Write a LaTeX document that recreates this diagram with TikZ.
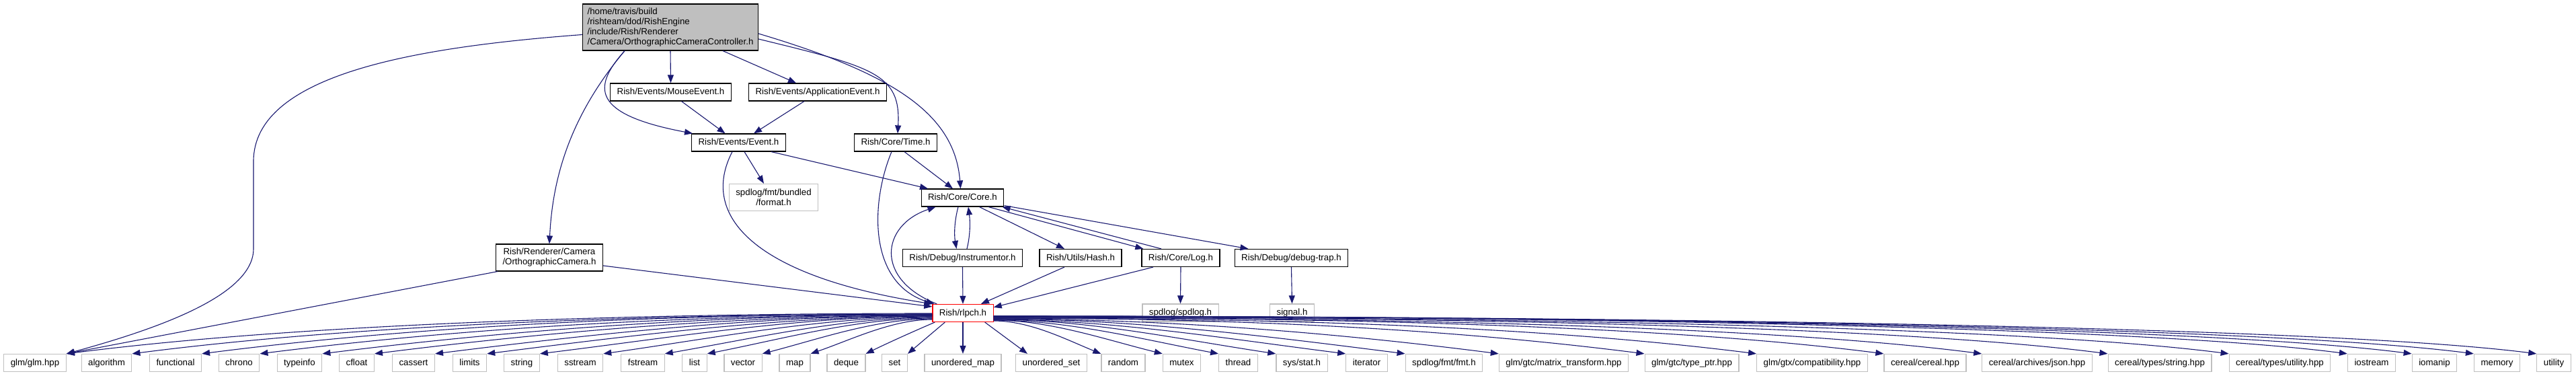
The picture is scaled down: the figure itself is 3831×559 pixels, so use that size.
\documentclass[tikz,border=0pt]{standalone}
\usepackage{fontspec}
\setmainfont{Liberation Sans}
\usetikzlibrary{arrows.meta}
\definecolor{edgeblue}{HTML}{191970}
\definecolor{boxgray}{HTML}{BFBFBF}
\newcommand{\lblfont}{\fontsize{13.3}{15}\selectfont}
\tikzstyle{file} = [rectangle, draw=black, fill=white, line width=1.2pt, font=\lblfont,
    inner xsep=10pt, inner ysep=4pt, minimum height=26pt, text height=10pt, text depth=3pt]
\tikzstyle{twoline} = [rectangle, draw=black, fill=white, line width=1.2pt, font=\lblfont,
    align=center, inner xsep=10pt, inner ysep=5pt, minimum height=40pt]
\tikzstyle{sysfile} = [file, draw=boxgray]
\tikzstyle{focus} = [rectangle, draw=black, fill=boxgray, line width=1.2pt, font=\lblfont,
    align=left, inner xsep=7pt, inner ysep=5pt, minimum height=69pt]
\tikzstyle{pch} = [file, draw=red]
\tikzstyle{arrow} = [color=edgeblue, line width=1.1pt, -{Triangle[length=12pt,width=9pt]}]

\begin{document}
\begin{tikzpicture}[x=1pt, y=-1pt]
\useasboundingbox (0,0) rectangle (3831,559);
\node (ctrl) [focus] at (997,40.5) {/home/travis/build\\/rishteam/dod/RishEngine\\/include/Rish/Renderer\\/Camera/OrthographicCameraController.h};
\node (mouseev) [file] at (997.5,137) {Rish/Events/MouseEvent.h};
\node (appev) [file] at (1216,137) {Rish/Events/ApplicationEvent.h};
\node (event) [file] at (1098.5,212) {Rish/Events/Event.h};
\node (timeh) [file] at (1332,212) {Rish/Core/Time.h};
\node (fmtformat) [twoline, draw=boxgray] at (1150.5,293.5) {spdlog/fmt/bundled\\/format.h};
\node (core) [file] at (1431.5,294) {Rish/Core/Core.h};
\node (orthocam) [twoline] at (817,383) {Rish/Renderer/Camera\\/OrthographicCamera.h};
\node (instr) [file] at (1431.5,383.5) {Rish/Debug/Instrumentor.h};
\node (hash) [file] at (1607,383.5) {Rish/Utils/Hash.h};
\node (logh) [file] at (1756,383.5) {Rish/Core/Log.h};
\node (debugtrap) [file] at (1920.5,383.5) {Rish/Debug/debug-trap.h};
\node (rlpch) [pch] at (1432,465.5) {Rish/rlpch.h};
\node (spdlog) [sysfile] at (1755.5,465) {spdlog/spdlog.h};
\node (signalh) [sysfile] at (1921.5,465) {signal.h};

\node (glm) [sysfile] at (52,539.5) {glm/glm.hpp};
\node (algorithm) [sysfile] at (158.5,539.5) {algorithm};
\node (functional) [sysfile] at (261,539.5) {functional};
\node (chrono) [sysfile] at (355.5,539.5) {chrono};
\node (typeinfo) [sysfile] at (445.5,539.5) {typeinfo};
\node (cfloat) [sysfile] at (530.5,539.5) {cfloat};
\node (cassert) [sysfile] at (615,539.5) {cassert};
\node (limits) [sysfile] at (698.5,539.5) {limits};
\node (string) [sysfile] at (776,539.5) {string};
\node (sstream) [sysfile] at (863,539.5) {sstream};
\node (fstream) [sysfile] at (956,539.5) {fstream};
\node (list) [sysfile] at (1033,539.5) {list};
\node (vector) [sysfile] at (1105,539.5) {vector};
\node (map) [sysfile] at (1182,539.5) {map};
\node (deque) [sysfile] at (1258.5,539.5) {deque};
\node (set) [sysfile] at (1330.5,539.5) {set};
\node (umap) [sysfile] at (1432,539.5) {unordered\_map};
\node (uset) [sysfile] at (1563.5,539.5) {unordered\_set};
\node (random) [sysfile] at (1670.5,539.5) {random};
\node (mutex) [sysfile] at (1757.5,539.5) {mutex};
\node (thread) [sysfile] at (1841.5,539.5) {thread};
\node (sysstat) [sysfile] at (1936,539.5) {sys/stat.h};
\node (iterator) [sysfile] at (2032.5,539.5) {iterator};
\node (fmth) [sysfile] at (2147.5,539.5) {spdlog/fmt/fmt.h};
\node (mtransform) [sysfile] at (2325.5,539.5) {glm/gtc/matrix\_transform.hpp};
\node (typeptr) [sysfile] at (2516,539.5) {glm/gtc/type\_ptr.hpp};
\node (compat) [sysfile] at (2695,539.5) {glm/gtx/compatibility.hpp};
\node (cereal) [sysfile] at (2863,539.5) {cereal/cereal.hpp};
\node (json) [sysfile] at (3029.5,539.5) {cereal/archives/json.hpp};
\node (cstring) [sysfile] at (3212,539.5) {cereal/types/string.hpp};
\node (cutility) [sysfile] at (3390.5,539.5) {cereal/types/utility.hpp};
\node (iostream) [sysfile] at (3527,539.5) {iostream};
\node (iomanip) [sysfile] at (3620.5,539.5) {iomanip};
\node (memory) [sysfile] at (3713.5,539.5) {memory};
\node (utility) [sysfile] at (3798,539.5) {utility};

% upper part
\draw[arrow] ([yshift=-11pt]ctrl.west) .. controls (620,70) and (377,110) .. (377,240) -- (377,370) .. controls (377,440) and (230,490) .. (glm.north east);
\draw[arrow] ([xshift=-68pt]ctrl.south) .. controls (850,170) and (822,260) .. (orthocam.north);
\draw[arrow] ([xshift=-68pt]ctrl.south) .. controls (880,130) and (880,170) .. ([xshift=2pt]event.north west);
\draw[arrow] (ctrl.south) -- (mouseev.north);
\draw[arrow] ([xshift=78pt]ctrl.south) -- ([xshift=-32pt]appev.north);
\draw[arrow] ([yshift=-17.5pt]ctrl.east) .. controls (1300,100) and (1340,110) .. ([xshift=3pt]timeh.north);
\draw[arrow] ([yshift=-9.5pt]ctrl.east) .. controls (1330,110) and (1420,170) .. ([xshift=-3pt]core.north);
\draw[arrow] ([xshift=16pt]mouseev.south) -- ([xshift=-20pt]event.north);
\draw[arrow] ([xshift=-20pt]appev.south) -- ([xshift=22.5pt]event.north);
\draw[arrow] ([xshift=8.5pt]event.south) -- ([xshift=-14.5pt]fmtformat.north);
\draw[arrow] ([xshift=48.5pt]event.south) -- ([xshift=-51.5pt]core.north);
\draw[arrow] ([xshift=-9.5pt]event.south) .. controls (1040,320) and (1120,410) .. (rlpch.north west);
\draw[arrow] ([xshift=13pt]timeh.south) -- ([xshift=-14.5pt]core.north);
\draw[arrow] ([xshift=-6pt]timeh.south) .. controls (1295,300) and (1290,420) .. ([xshift=3pt]rlpch.north west);
\draw[arrow] ([xshift=7pt]rlpch.north west) .. controls (1300,415) and (1310,335) .. ([xshift=-40pt]core.south);
\draw[arrow] ([xshift=-6.5pt]core.south) .. controls (1419,330) and (1419,350) .. ([xshift=-9pt]instr.north);
\draw[arrow] ([xshift=6.5pt]instr.north) .. controls (1443,350) and (1443,330) .. ([xshift=8.5pt]core.south);
\draw[arrow] ([xshift=25pt]core.south) -- ([xshift=-24pt]hash.north);
\draw[arrow] ([xshift=38.5pt]core.south) -- ([xshift=3pt]logh.north west);
\draw[arrow] ([xshift=-29pt]logh.north) -- ([xshift=-3pt]core.south east);
\draw[arrow] ([yshift=2pt]core.south east) -- ([xshift=-64pt]debugtrap.north);
\draw[arrow] (instr.south) -- (rlpch.north);
\draw[arrow] ([xshift=-24pt]hash.south) -- ([xshift=27pt]rlpch.north);
\draw[arrow] ([xshift=-41pt]logh.south) -- ([yshift=-5pt]rlpch.north east);
\draw[arrow] (logh.south) -- (spdlog.north);
\draw[arrow] (debugtrap.south) -- (signalh.north);
\draw[arrow] ([yshift=-12pt]orthocam.east) -- ([yshift=-4pt]rlpch.north west);
\draw[arrow] ([xshift=-77pt]orthocam.south) -- (glm.north east);

% rlpch to the left
\draw[arrow] ([yshift=-0.5pt]rlpch.west) .. controls (958,466) and (449,481) .. (glm.north east);
\draw[arrow] ([yshift=-1.5pt]rlpch.west) .. controls (990,467) and (545,481) .. (algorithm.north east);
\draw[arrow] ([yshift=-1.5pt]rlpch.west) .. controls (1025,467) and (650,481) .. (functional.north east);
\draw[arrow] ([yshift=-2.5pt]rlpch.west) .. controls (1053,468) and (720,484) .. (chrono.north east);
\draw[arrow] ([yshift=-2.5pt]rlpch.west) .. controls (1085,468) and (782,488) .. (typeinfo.north east);
\draw[arrow] ([yshift=-3.5pt]rlpch.west) .. controls (1111,469) and (834,491) .. (cfloat.north east);
\draw[arrow] ([yshift=-3.5pt]rlpch.west) .. controls (1141,469) and (894,495) .. (cassert.north east);
\draw[arrow] ([yshift=-4.5pt]rlpch.west) .. controls (1166,470) and (946,498) .. (limits.north east);
\draw[arrow] ([yshift=-4.5pt]rlpch.west) .. controls (1192,470) and (998,502) .. (string.north east);
\draw[arrow] ([yshift=-5.5pt]rlpch.west) .. controls (1224,471) and (1060,503) .. (sstream.north east);
\draw[arrow] ([yshift=-6.5pt]rlpch.west) .. controls (1254,472) and (1122,503) .. (fstream.north east);
\draw[arrow] ([yshift=-7.5pt]rlpch.west) .. controls (1275,473) and (1164,504) .. (list.north east);
\draw[arrow] ([yshift=-8.5pt]rlpch.west) .. controls (1303,474) and (1218,504) .. (vector.north east);
\draw[arrow] ([yshift=-9.5pt]rlpch.west) .. controls (1327,475) and (1266,505) .. (map.north east);
\draw[arrow] ([xshift=4pt]rlpch.south west) .. controls (1360,492) and (1320,510) .. (deque.north east);
\draw[arrow] ([xshift=19pt]rlpch.south west) -- (set.north east);
\draw[arrow] (rlpch.south) -- (umap.north);
% rlpch to the right
\draw[arrow] ([xshift=-13pt]rlpch.south east) -- ([xshift=18pt]uset.north west);
\draw[arrow] ([yshift=-11.5pt]rlpch.east) .. controls (1532,477) and (1586,505) .. (random.north west);
\draw[arrow] ([yshift=-10.5pt]rlpch.east) .. controls (1561,476) and (1644,505) .. (mutex.north west);
\draw[arrow] ([yshift=-10.5pt]rlpch.east) .. controls (1589,476) and (1701,505) .. (thread.north west);
\draw[arrow] ([yshift=-9.5pt]rlpch.east) .. controls (1617,475) and (1757,505) .. (sysstat.north west);
\draw[arrow] ([yshift=-9.5pt]rlpch.east) .. controls (1652,475) and (1827,504) .. (iterator.north west);
\draw[arrow] ([yshift=-8.5pt]rlpch.east) .. controls (1682,474) and (1885,500) .. (fmth.north west);
\draw[arrow] ([yshift=-8.5pt]rlpch.east) .. controls (1728,474) and (1979,494) .. (mtransform.north west);
\draw[arrow] ([yshift=-7.5pt]rlpch.east) .. controls (1800,473) and (2123,485) .. (typeptr.north west);
\draw[arrow] ([yshift=-7.5pt]rlpch.east) .. controls (1856,473) and (2262,482) .. (compat.north west);
\draw[arrow] ([yshift=-6.5pt]rlpch.east) .. controls (1919,472) and (2452,481) .. (cereal.north west);
\draw[arrow] ([yshift=-6.5pt]rlpch.east) .. controls (1968,472) and (2598,481) .. (json.north west);
\draw[arrow] ([yshift=-5.5pt]rlpch.east) .. controls (2030,471) and (2785,481) .. (cstring.north west);
\draw[arrow] ([yshift=-5.5pt]rlpch.east) .. controls (2090,471) and (2964,481) .. (cutility.north west);
\draw[arrow] ([yshift=-4.5pt]rlpch.east) .. controls (2149,470) and (3142,481) .. (iostream.north west);
\draw[arrow] ([yshift=-4.5pt]rlpch.east) .. controls (2181,470) and (3237,481) .. (iomanip.north west);
\draw[arrow] ([yshift=-4.5pt]rlpch.east) .. controls (2212,470) and (3329,481) .. (memory.north west);
\draw[arrow] ([yshift=-4.5pt]rlpch.east) .. controls (2242,470) and (3421,481) .. (utility.north west);
\end{tikzpicture}
\end{document}
